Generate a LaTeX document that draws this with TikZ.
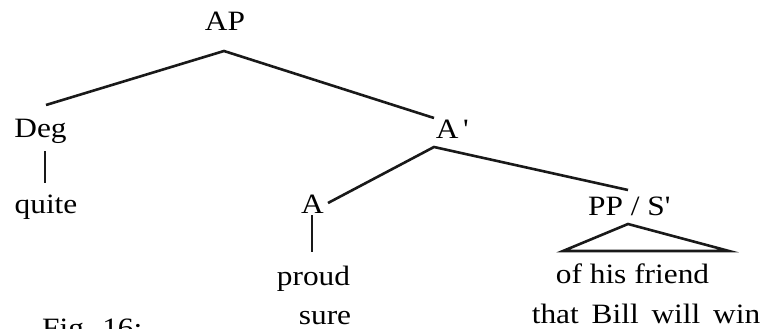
\documentclass[tikz,border=0pt]{standalone}
\usepackage{fontspec}
\setmainfont{Liberation Serif}[FakeStretch=1.12]
\begin{document}
\begin{tikzpicture}[x=1pt,y=-1pt,
  lbl/.style={inner sep=0pt,anchor=base,font=\fontsize{28}{30}\selectfont},
  edge/.style={line width=2.6pt,black!90}]
\useasboundingbox (0,0) rectangle (761,329);
% labels
\node[lbl] (AP) at (225,31) {AP};
\node[lbl] (Deg) at (40.5,137) {Deg};
\node[lbl] (quite) at (46,213) {quite};
\node[lbl] (Abar) at (452,139) {A\,\textquotesingle};
\node[lbl] (A) at (312.5,213) {A};
\node[lbl] (PPS) at (629,215) {PP / S\textquotesingle};
\node[lbl] (proud) at (313.5,285) {proud};
\node[lbl] (sure) at (325,324) {sure};
\node[lbl] (friend) at (632.5,283) {of his friend};
\node[lbl] (bill) at (646,323) {that\hspace{5pt} Bill\hspace{5pt} will\hspace{5pt} win};
\node[lbl,anchor=base west] (fig) at (42,337) {Fig. 16:};
% connector endpoints
\coordinate (ap-b) at (224,51);
\coordinate (deg-t) at (46,105);
\coordinate (abar-t) at (434,118);
\coordinate (deg-b) at (45,151);
\coordinate (quite-t) at (45,183);
\coordinate (abar-b) at (434,147);
\coordinate (a-t) at (328,203);
\coordinate (pps-t) at (628,190);
\coordinate (a-b) at (312,215);
\coordinate (proud-t) at (312,252);
\coordinate (pps-b) at (628,224);
\coordinate (tri-l) at (563,251);
\coordinate (tri-r) at (729,251);
% connectors
\draw[edge] (deg-t) -- (ap-b) -- (abar-t);
\draw[edge] (deg-b) -- (quite-t);
\draw[edge] (a-t) -- (abar-b) -- (pps-t);
\draw[edge] (a-b) -- (proud-t);
\draw[edge,line join=miter] (tri-l) -- (pps-b) -- (tri-r) -- cycle;
\end{tikzpicture}
\end{document}
